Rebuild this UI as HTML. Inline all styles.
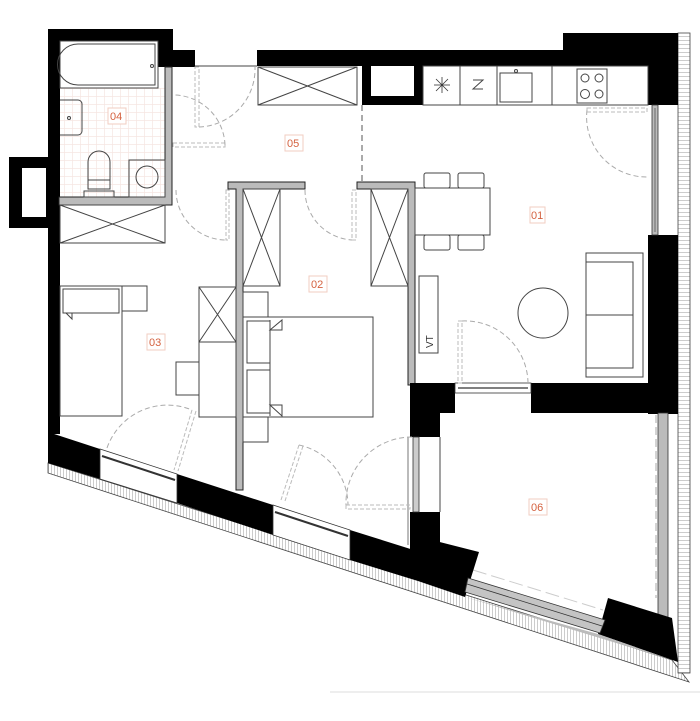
<!DOCTYPE html>
<html><head><meta charset="utf-8"><style>
html,body{margin:0;padding:0;background:#fff;}
svg{display:block;}
.l{fill:none;stroke:#444;stroke-width:1;}
.d{fill:none;stroke:#aaa;stroke-width:1;stroke-dasharray:5 3;}
.lab{font-family:"Liberation Sans",sans-serif;font-size:11px;fill:#d4613f;}
.lb{fill:#fff;stroke:#f2cdc2;stroke-width:1;}
</style></head><body>
<svg width="700" height="721" viewBox="0 0 700 721" xmlns="http://www.w3.org/2000/svg">
<defs>
<pattern id="h" width="3" height="6" patternUnits="userSpaceOnUse"><rect width="3" height="6" fill="#fff"/><line x1="0.5" y1="0" x2="0.5" y2="6" stroke="#999" stroke-width="0.5"/></pattern>
<pattern id="hv" width="12" height="4" patternUnits="userSpaceOnUse"><rect width="12" height="4" fill="#fff"/><line x1="0" y1="0.5" x2="12" y2="0.5" stroke="#999" stroke-width="0.5"/><line x1="6" y1="0" x2="6" y2="4" stroke="#bbb" stroke-width="0.5"/></pattern>
<pattern id="tile" width="8" height="8" patternUnits="userSpaceOnUse"><rect width="8" height="8" fill="#fff"/><path d="M0 0.5H8M0.5 0V8" stroke="#f6e6e2" stroke-width="0.7"/></pattern>
</defs>

<polygon points="48,463 672,660 689,682 48,473" fill="url(#h)" stroke="#444" stroke-width="0.8"/>
<rect x="678" y="33" width="12" height="640" fill="url(#hv)" stroke="#444" stroke-width="0.8"/>
<line x1="330" y1="692" x2="700" y2="692" stroke="#ddd" stroke-width="1"/>

<rect x="60" y="88" width="105" height="109" fill="url(#tile)"/>

<rect x="48" y="29" width="125" height="12" fill="#000"/>
<rect x="48" y="29" width="12" height="405" fill="#000"/>
<rect x="158" y="29" width="15" height="38" fill="#000"/>
<rect x="173" y="50" width="22" height="17" fill="#000"/>
<path d="M165 67 H172 V205 H59 V197 H165 Z" fill="#bbb" stroke="#222" stroke-width="1"/>
<rect x="9" y="157" width="40" height="71" fill="#000"/>
<rect x="22" y="168" width="24" height="49" fill="#fff"/>

<rect x="257" y="50" width="306" height="16" fill="#000"/>
<rect x="563" y="33" width="115" height="33" fill="#000"/>
<rect x="648" y="33" width="30" height="72" fill="#000"/>
<rect x="648" y="235" width="30" height="179" fill="#000"/>
<rect x="652" y="105" width="6" height="130" fill="#bbb" stroke="#333" stroke-width="0.8"/>
<line x1="655" y1="108" x2="655" y2="232" stroke="#333" stroke-width="0.6"/>
<rect x="362" y="66" width="61" height="39" fill="#000"/>
<rect x="371" y="66" width="43" height="30" fill="#fff"/>

<rect x="423" y="66" width="225" height="39" class="l"/>
<line x1="460" y1="66" x2="460" y2="105" class="l"/>
<line x1="497" y1="66" x2="497" y2="105" class="l"/>
<line x1="552" y1="66" x2="552" y2="105" class="l"/>
<rect x="500" y="73" width="32" height="29" class="l"/>
<circle cx="516" cy="71" r="1.5" class="l"/>
<g stroke="#333" stroke-width="0.8"><line x1="434" y1="85" x2="450" y2="85"/><line x1="442" y1="77" x2="442" y2="93"/><line x1="436" y1="79" x2="448" y2="91"/><line x1="448" y1="79" x2="436" y2="91"/></g>
<path d="M473 80 L483 80 L473 89 L483 89" class="l"/>
<rect x="577" y="69" width="30" height="34" class="l"/>
<circle cx="585" cy="78" r="4" class="l"/><circle cx="599" cy="78" r="4" class="l"/>
<circle cx="585" cy="94" r="4.5" class="l"/><circle cx="599" cy="94" r="4" class="l"/>
<line x1="362" y1="105" x2="362" y2="183" stroke="#555" stroke-dasharray="6 4"/>

<rect x="258" y="67" width="99" height="38" class="l"/>
<path d="M258 67 L357 105 M357 67 L258 105" class="l" stroke-width="0.7"/>
<line x1="195" y1="66" x2="257" y2="66" class="l"/>

<path d="M228 182 H305 V189 H243 V490 H236 V189 H228 Z" fill="#bbb" stroke="#222" stroke-width="1"/>
<path d="M357 182 H415 V385 H408 V189 H357 Z" fill="#bbb" stroke="#222" stroke-width="1"/>

<rect x="410" y="383" width="45" height="30" fill="#000"/>
<rect x="531" y="383" width="147" height="30" fill="#000"/>
<rect x="455" y="383" width="76" height="10" fill="#fff" stroke="#333" stroke-width="0.8"/>
<line x1="458" y1="388" x2="528" y2="388" stroke="#333" stroke-width="1.2"/>
<rect x="410" y="413" width="30" height="24" fill="#000"/>
<rect x="410" y="512" width="30" height="35" fill="#000"/>
<rect x="413" y="437" width="6" height="75" fill="#ccc" stroke="#333" stroke-width="0.8"/>
<line x1="440" y1="437" x2="440" y2="512" class="l"/>
<line x1="408" y1="437" x2="408" y2="545" stroke="#777"/>

<rect x="658" y="413" width="10" height="205" fill="#bbb" stroke="#333" stroke-width="0.8"/>
<line x1="656" y1="415" x2="656" y2="598" stroke="#aaa" stroke-dasharray="8 4"/>
<line x1="473" y1="570" x2="603" y2="610" stroke="#ccc" stroke-dasharray="14 5"/>

<polygon points="48,432 100,449 100,479 48,463" fill="#000"/>
<polygon points="177,474 273,505 273,535 177,503" fill="#000"/>
<polygon points="350,530 420,552 420,537 479,552 465,597 418,581 350,560" fill="#000"/>
<polygon points="410,545 440,547 440,556 410,556" fill="#000"/>
<polygon points="608,598 672,618 678,662 598,634" fill="#000"/>
<polygon points="100,449 177,474 177,503 100,479" fill="#fff" stroke="#333" stroke-width="0.8"/>
<line x1="102" y1="456" x2="175" y2="480" stroke="#333" stroke-width="2"/>
<line x1="102" y1="459" x2="175" y2="483" stroke="#fff" stroke-width="0.8"/>
<polygon points="273,505 350,530 350,560 273,535" fill="#fff" stroke="#333" stroke-width="0.8"/>
<line x1="275" y1="512" x2="348" y2="536" stroke="#333" stroke-width="2"/>
<line x1="275" y1="515" x2="348" y2="539" stroke="#fff" stroke-width="0.8"/>
<polygon points="468,578 605,620 600,633 465,592" fill="#c4c4c4" stroke="#333" stroke-width="0.8"/>
<line x1="467" y1="584" x2="602" y2="626" stroke="#333" stroke-width="0.8"/>
<polygon points="465,597 598,634 678,662 672,660" fill="#bbb"/>

<rect x="195" y="67" width="4" height="60" fill="none" stroke="#bbb" stroke-dasharray="4 2"/>
<path d="M199 127 A58 58 0 0 0 255 67" class="d"/>
<rect x="173" y="143" width="52" height="4" fill="none" stroke="#bbb" stroke-dasharray="4 2"/>
<path d="M225 145 A52 52 0 0 0 173 95" class="d"/>
<rect x="226" y="190" width="3" height="50" fill="none" stroke="#bbb" stroke-dasharray="4 2"/>
<path d="M176 190 A50 50 0 0 0 226 240" class="d"/>
<rect x="352" y="190" width="4" height="50" fill="none" stroke="#bbb" stroke-dasharray="4 2"/>
<path d="M305 190 A50 50 0 0 0 352 240" class="d"/>
<rect x="587" y="108" width="60" height="4" fill="none" stroke="#bbb" stroke-dasharray="4 2"/>
<path d="M587 110 A60 60 0 0 0 647 177" class="d"/>
<rect x="458" y="321" width="4" height="62" fill="none" stroke="#bbb" stroke-dasharray="4 2"/>
<path d="M462 321 A63 63 0 0 1 528 383" class="d"/>
<path d="M192 410 L174 470" stroke="#bbb" stroke-dasharray="4 2"/>
<path d="M196 411 L178 471" stroke="#bbb" stroke-dasharray="4 2"/>
<path d="M107 448 A64 64 0 0 1 192 410" class="d"/>
<path d="M299 445 L281 500 M303 446 L285 501" stroke="#bbb" stroke-dasharray="4 2"/>
<path d="M299 445 A62 62 0 0 1 348 505" class="d"/>
<rect x="346" y="505" width="64" height="4" fill="none" stroke="#bbb" stroke-dasharray="4 2"/>
<path d="M412 437 A66 66 0 0 0 346 505" class="d"/>

<rect x="60" y="41" width="98" height="47" class="l"/>
<path d="M78 44 H155 V85 H78 A20 20 0 0 1 78 44 Z" class="l"/>
<circle cx="152" cy="66" r="1.5" class="l"/>
<path d="M60 100 H78 A4 4 0 0 1 82 104 V131 A4 4 0 0 1 78 135 H60" class="l"/>
<circle cx="69" cy="118" r="1.5" class="l"/>
<path d="M88 189 V162 A11 11 0 0 1 110 162 V189 Z" class="l"/>
<line x1="88" y1="180" x2="110" y2="180" class="l"/>
<rect x="84" y="191" width="30" height="6" class="l"/>
<rect x="129" y="160" width="36" height="37" class="l"/>
<circle cx="147" cy="177" r="11" class="l"/>

<rect x="60" y="205" width="105" height="38" class="l"/>
<path d="M60 205 L165 243 M165 205 L60 243" class="l" stroke-width="0.7"/>
<rect x="60" y="286" width="62" height="130" class="l"/>
<rect x="63" y="289" width="56" height="24" class="l"/>
<rect x="122" y="286" width="25" height="25" class="l"/>
<path d="M66 313 L72 319 L72 313" class="l"/>
<rect x="199" y="287" width="37" height="130" class="l"/>
<line x1="199" y1="342" x2="236" y2="342" class="l"/>
<path d="M199 287 L236 342 M236 287 L199 342" class="l" stroke-width="0.7"/>
<rect x="176" y="362" width="23" height="33" class="l"/>

<rect x="243" y="189" width="37" height="97" class="l"/>
<path d="M243 189 L280 286 M280 189 L243 286" class="l" stroke-width="0.7"/>
<rect x="371" y="189" width="37" height="97" class="l"/>
<path d="M371 189 L408 286 M408 189 L371 286" class="l" stroke-width="0.7"/>
<rect x="243" y="292" width="25" height="25" class="l"/>
<rect x="243" y="417" width="25" height="25" class="l"/>
<rect x="243" y="317" width="130" height="100" class="l"/>
<rect x="247" y="321" width="23" height="42" class="l"/>
<rect x="247" y="370" width="23" height="43" class="l"/>
<path d="M270 320 V416" class="l"/>
<path d="M270 330 L282 320 V330 Z M270 405 L282 416 V405 Z" class="l"/>

<rect x="415" y="188" width="75" height="47" class="l"/>
<rect x="424" y="173" width="26" height="15" rx="2" class="l"/>
<rect x="458" y="173" width="26" height="15" rx="2" class="l"/>
<rect x="424" y="235" width="26" height="15" rx="2" class="l"/>
<rect x="458" y="235" width="26" height="15" rx="2" class="l"/>
<rect x="419" y="276" width="19" height="77" class="l"/>
<text x="433" y="348" class="lab" style="fill:#333;font-size:10px" transform="rotate(-90 433 348)">VT</text>
<circle cx="543" cy="313" r="25" class="l"/>
<rect x="586" y="253" width="57" height="124" class="l"/>
<path d="M586 262 H633 V368 H586 M586 315 H633" class="l"/>

<rect x="108" y="108" width="18" height="16" class="lb"/><text x="110" y="120" class="lab">04</text>
<rect x="285" y="135" width="18" height="16" class="lb"/><text x="287" y="147" class="lab">05</text>
<rect x="309" y="276" width="18" height="16" class="lb"/><text x="311" y="288" class="lab">02</text>
<rect x="147" y="334" width="18" height="16" class="lb"/><text x="149" y="346" class="lab">03</text>
<rect x="530" y="207" width="15" height="16" class="lb"/><text x="531" y="219" class="lab">01</text>
<rect x="529" y="499" width="18" height="16" class="lb"/><text x="531" y="511" class="lab">06</text>
</svg>
</body></html>
